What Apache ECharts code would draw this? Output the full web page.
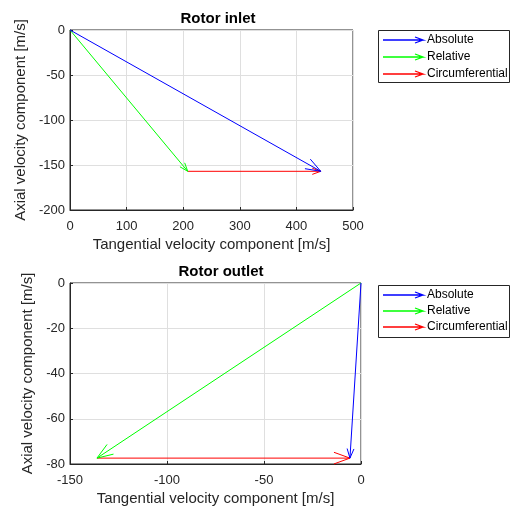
<!DOCTYPE html>
<html><head><meta charset="utf-8">
<script src="https://cdn.jsdelivr.net/npm/echarts@6/dist/echarts.min.js"></script>
<style>html,body{margin:0;padding:0;background:#fff}#c{width:512px;height:511px}</style>
</head><body><div id="c"></div>
<script>
const seriesNames = ['Absolute', 'Relative', 'Circumferential'];
const seriesColors = ['#0000ff', '#00ff00', '#ff0000'];
// Rotor inlet: arrow start (x0,y0) and components (u,v)
const inletX0 = [0, 0, 208];
const inletY0 = [0, 0, -157];
const inletU = [443, 208, 235];
const inletV = [-157, -157, 0];
// Rotor outlet
const outletX0 = [0, 0, -136.1];
const outletY0 = [0, 0, -77.4];
const outletU = [-5.7, -136.1, 130.4];
const outletV = [-77.4, -77.4, 0];
const inletXTicks = [0, 500, 100];
const inletYTicks = [-200, 0, 50];
const outletXTicks = [-150, 0, 50];
const outletYTicks = [-80, 0, 20];

const headLen = [[16, 9, 9], [10, 17, 17]];
const FONT = 'Liberation Sans, Arial, sans-serif';
const TXT = '#262626';

function arrowRender(head) {
  return function (params, api) {
    const x0 = api.value(0), y0 = api.value(1), u = api.value(2), v = api.value(3);
    const p0 = api.coord([x0, y0]);
    const p1 = api.coord([x0 + u, y0 + v]);
    const ang = Math.atan2(p1[1] - p0[1], p1[0] - p0[0]);
    const a = 20 * Math.PI / 180;
    const b1 = [p1[0] - head * Math.cos(ang - a), p1[1] - head * Math.sin(ang - a)];
    const b2 = [p1[0] - head * Math.cos(ang + a), p1[1] - head * Math.sin(ang + a)];
    const st = { stroke: api.visual('color'), lineWidth: 1, fill: null };
    return {
      type: 'group',
      children: [
        { type: 'line', shape: { x1: p0[0], y1: p0[1], x2: p1[0], y2: p1[1] }, style: st },
        { type: 'polyline', shape: { points: [b1, p1, b2] }, style: st }
      ]
    };
  };
}

function makeSeries(gi, X0, Y0, U, V) {
  return seriesNames.map((n, i) => ({
    type: 'custom', name: n, xAxisIndex: gi, yAxisIndex: gi, clip: false,
    itemStyle: { color: seriesColors[i] },
    renderItem: arrowRender(headLen[gi][i]),
    data: [[X0[i], Y0[i], U[i], V[i]]],
    z: 10 - i
  }));
}

function xAxis(gi, t) {
  return {
    type: 'value', gridIndex: gi, min: t[0], max: t[1], interval: t[2],
    name: 'Tangential velocity component [m/s]', nameLocation: 'middle', nameGap: 27,
    nameTextStyle: { fontFamily: FONT, fontSize: 15, color: TXT },
    axisLine: { show: true, onZero: false, lineStyle: { color: TXT } },
    axisTick: { show: true, inside: true, length: 3, lineStyle: { color: TXT } },
    axisLabel: { fontFamily: FONT, fontSize: 13, color: TXT, margin: 10 },
    splitLine: { show: true, lineStyle: { color: '#dfdfdf' } }
  };
}
function yAxis(gi, t, gap) {
  return {
    type: 'value', gridIndex: gi, min: t[0], max: t[1], interval: t[2],
    name: 'Axial velocity component [m/s]', nameLocation: 'middle', nameGap: gap, nameRotate: 90,
    nameTextStyle: { fontFamily: FONT, fontSize: 15, color: TXT },
    axisLine: { show: true, onZero: false, lineStyle: { color: TXT } },
    axisTick: { show: true, inside: true, length: 3, lineStyle: { color: TXT } },
    axisLabel: { fontFamily: FONT, fontSize: 13, color: TXT, margin: 5 },
    splitLine: { show: true, lineStyle: { color: '#dfdfdf' } }
  };
}

function legendGraphic(key, top, step) {
  const g = [{
    type: 'rect', id: key + 'box', shape: { x: 378.5, y: top + 0.5, width: 131, height: 52 },
    style: { fill: '#fff', stroke: TXT, lineWidth: 1 }, z: 100
  }];
  seriesNames.forEach((n, i) => {
    const y = top + 10 + i * step;
    g.push({
      type: 'polyline', id: key + 'arr' + i,
      shape: { points: [[383, y], [423, y], [415, y - 3], [423, y], [415, y + 3]] },
      style: { stroke: seriesColors[i], lineWidth: 1.3, fill: null }, z: 101
    });
    g.push({
      type: 'text', id: key + 'txt' + i,
      style: { text: n, x: 427, y: y, textVerticalAlign: 'middle', font: '12px ' + FONT, fill: '#000' }, z: 101
    });
  });
  return g;
}

const chart = echarts.init(document.getElementById('c'), null, { renderer: 'canvas' });
chart.setOption({
  animation: false,
  backgroundColor: '#fff',
  title: [
    { text: 'Rotor inlet', left: 213, top: 6, textAlign: 'center', textStyle: { fontFamily: FONT, fontSize: 15, fontWeight: 'bold', color: '#000' } },
    { text: 'Rotor outlet', left: 216, top: 259, textAlign: 'center', textStyle: { fontFamily: FONT, fontSize: 15, fontWeight: 'bold', color: '#000' } }
  ],
  grid: [
    { left: 70, top: 30, width: 283, height: 180, show: true, borderColor: TXT, borderWidth: 1, backgroundColor: 'transparent' },
    { left: 70, top: 283, width: 291, height: 181, show: true, borderColor: TXT, borderWidth: 1, backgroundColor: 'transparent' }
  ],
  xAxis: [xAxis(0, inletXTicks), xAxis(1, outletXTicks)],
  yAxis: [yAxis(0, inletYTicks, 37), yAxis(1, outletYTicks, 29)],
  series: makeSeries(0, inletX0, inletY0, inletU, inletV).concat(makeSeries(1, outletX0, outletY0, outletU, outletV)),
  graphic: legendGraphic('a', 30, 17).concat(legendGraphic('b', 285, 16))
});
</script></body></html>
